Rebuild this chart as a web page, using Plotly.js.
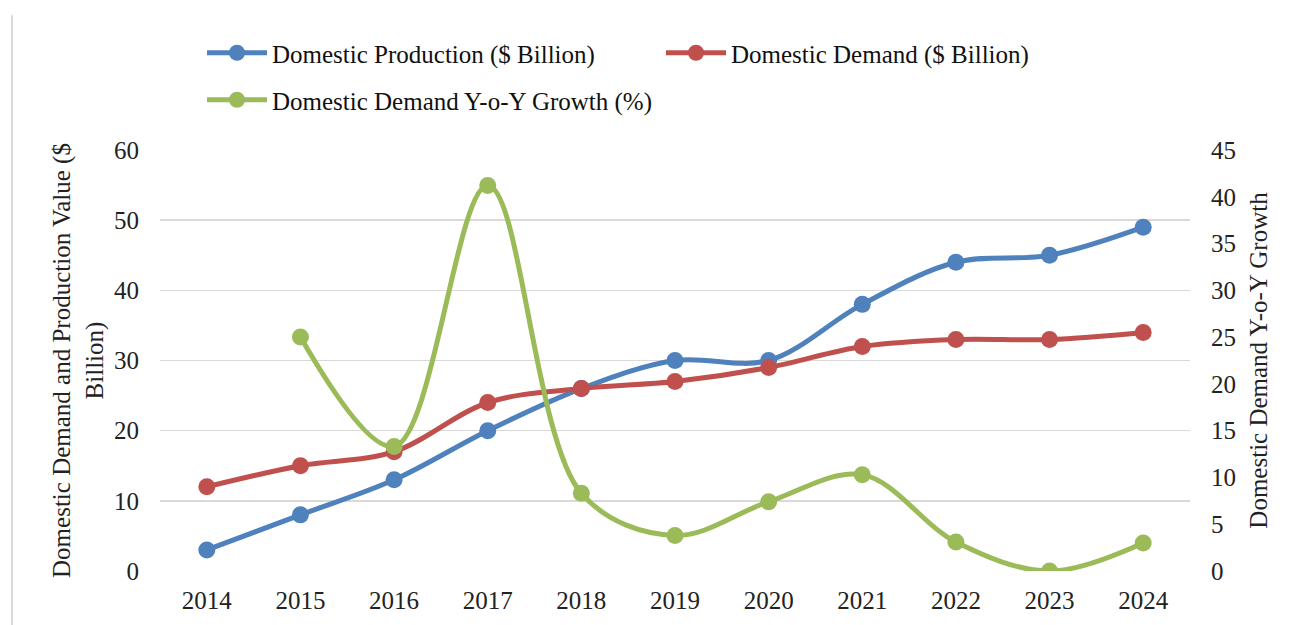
<!DOCTYPE html>
<html>
<head>
<meta charset="utf-8">
<script src="https://cdn.plot.ly/plotly-3.0.1.min.js"></script>
<style>
  html, body { margin: 0; padding: 0; background: #fff; }
  #chart { width: 1296px; height: 625px; }
</style>
</head>
<body>
<div id="chart"></div>
<script>
// ------------------------------
// Data
// ------------------------------
const years = ["2014", "2015", "2016", "2017", "2018", "2019", "2020", "2021", "2022", "2023", "2024"];
const production = [3, 8, 13, 20, 26, 30, 30, 38, 44, 45, 49];
const demand = [12, 15, 17, 24, 26, 27, 29, 32, 33, 33, 34];
const growthYears = ["2015", "2016", "2017", "2018", "2019", "2020", "2021", "2022", "2023", "2024"];
const growth = [25.0, 13.3, 41.2, 8.3, 3.8, 7.4, 10.3, 3.1, 0, 3.0];

const FONT = "Liberation Serif, Times New Roman, serif";
const FS = 25;

function lineTrace(x, y, name, color, axis, legend) {
  return {
    type: "scatter",
    mode: "lines+markers",
    x: x,
    y: y,
    name: name,
    yaxis: axis,
    legend: legend,
    line: { color: color, width: 5, shape: "spline", smoothing: 1 },
    marker: { color: color, size: 17 },
  };
}

const traces = [
  lineTrace(years, production, "Domestic Production ($ Billion)", "#4F81BD", "y", "legend"),
  lineTrace(years, demand, "Domestic Demand ($ Billion)", "#C0504D", "y", "legend"),
  lineTrace(growthYears, growth, "Domestic Demand Y-o-Y Growth (%)", "#9BBB59", "y2", "legend2"),
];

function legendRow(yPx) {
  return {
    orientation: "h",
    xref: "container", yref: "container",
    x: 202 / 1296, xanchor: "left",
    y: 1 - yPx / 625, yanchor: "middle",
    entrywidth: 384,
    itemwidth: 60,
    bgcolor: "rgba(0,0,0,0)",
    font: { family: FONT, size: FS, color: "#111" },
  };
}

const layout = {
  width: 1296,
  height: 625,
  margin: { l: 160, r: 106, t: 150, b: 54 },
  paper_bgcolor: "#ffffff",
  plot_bgcolor: "#ffffff",
  font: { family: FONT, size: FS, color: "#222" },
  showlegend: true,
  legend: legendRow(53),
  legend2: legendRow(100),
  xaxis: {
    type: "category",
    range: [-0.5, 10.5],
    showgrid: false,
    zeroline: false,
    showline: false,
    ticks: "",
    ticklabelstandoff: 12,
    tickfont: { family: FONT, size: FS },
  },
  yaxis: {
    range: [0, 60],
    dtick: 10,
    showgrid: true,
    gridcolor: "#d9d9d9",
    gridwidth: 1.5,
    zeroline: false,
    showline: false,
    ticks: "",
    ticklabelstandoff: 20,
    tickfont: { family: FONT, size: FS },
    title: { text: "Domestic Demand and Production Value ($<br>Billion)", font: { family: FONT, size: FS }, standoff: 3 },
  },
  yaxis2: {
    overlaying: "y",
    side: "right",
    range: [0, 45],
    dtick: 5,
    showgrid: false,
    zeroline: false,
    showline: false,
    ticks: "",
    ticklabelstandoff: 20,
    tickfont: { family: FONT, size: FS },
    title: { text: "Domestic Demand Y-o-Y Growth", font: { family: FONT, size: FS }, standoff: 14 },
  },
  shapes: [
    {
      type: "line", xref: "paper", yref: "paper",
      x0: -0.1437, x1: -0.1437, y0: -0.13, y1: 1.32,
      line: { color: "#d9d9d9", width: 2 },
    },
  ],
};

Plotly.newPlot("chart", traces, layout, { displayModeBar: false, staticPlot: true });
</script>
</body>
</html>
